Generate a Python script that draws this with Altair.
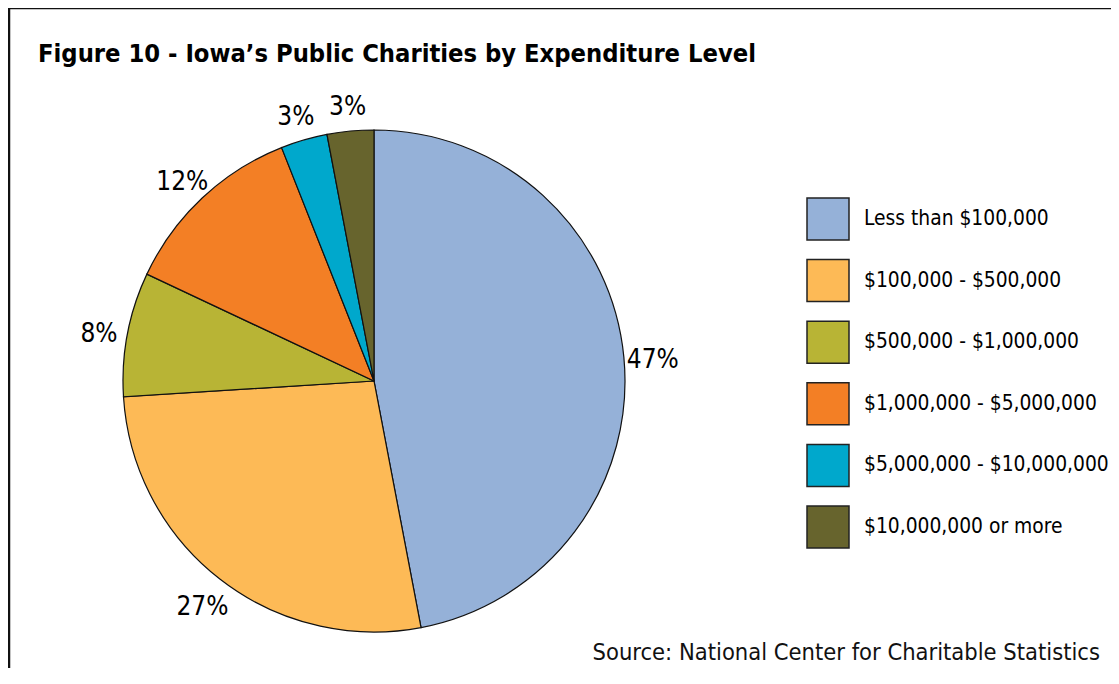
import altair as alt
import pandas as pd

categories = [
    "Less than $100,000",
    "$100,000 - $500,000",
    "$500,000 - $1,000,000",
    "$1,000,000 - $5,000,000",
    "$5,000,000 - $10,000,000",
    "$10,000,000 or more",
]
percents = [47, 27, 8, 12, 3, 3]
colors = ["#95B1D8", "#FDBA56", "#B8B435", "#F37F25", "#00A8CC", "#67642D"]
title_text = "Figure 10 - Iowa\u2019s Public Charities by Expenditure Level"
source_text = "Source: National Center for Charitable Statistics"

FONT = "Liberation Sans Narrow, DejaVu Sans Condensed, sans-serif"

df = pd.DataFrame({
    "category": categories,
    "percent": percents,
    "order": list(range(len(categories))),
    "label": [f"{p}%" for p in percents],
})

CX, CY = 366, 373

base = alt.Chart(df)

pie = base.mark_arc(outerRadius=251, stroke="#111111", strokeWidth=1.2).encode(
    theta=alt.Theta("percent:Q", stack=True),
    order=alt.Order("order:Q"),
    color=alt.Color(
        "category:N",
        scale=alt.Scale(domain=categories, range=colors),
        legend=alt.Legend(
            title=None,
            orient="none",
            legendX=798,
            legendY=189,
            symbolType="square",
            symbolSize=1764,
            symbolStrokeColor="#222222",
            symbolStrokeWidth=1.5,
            symbolOpacity=1,
            labelFontSize=20.8,
            labelFont=FONT,
            labelColor="black",
            labelOffset=14,
            rowPadding=13.6,
            labelLimit=400,
            padding=0,
        ),
    ),
    x=alt.value(CX),
    y=alt.value(CY),
)

labels = base.mark_text(radius=280, dy=5, fontSize=26, font=FONT, color="black").encode(
    theta=alt.Theta("percent:Q", stack=True),
    order=alt.Order("order:Q"),
    text="label:N",
    x=alt.value(CX),
    y=alt.value(CY),
)

title = alt.Chart(pd.DataFrame({"t": [title_text]})).mark_text(
    align="left", baseline="alphabetic", fontSize=25.3, fontWeight="bold", font=FONT, color="black"
).encode(x=alt.value(30), y=alt.value(54), text="t:N")

source = alt.Chart(pd.DataFrame({"t": [source_text]})).mark_text(
    align="right", baseline="alphabetic", fontSize=23.5, font=FONT, color="#111111"
).encode(x=alt.value(1092), y=alt.value(652), text="t:N")

frame_top = alt.Chart(pd.DataFrame({"k": [0]})).mark_rule(color="#111111", strokeWidth=2.5).encode(
    x=alt.value(0), x2=alt.value(1103), y=alt.value(0)
)
frame_left = alt.Chart(pd.DataFrame({"k": [0]})).mark_rule(color="#111111", strokeWidth=2.5).encode(
    x=alt.value(1), y=alt.value(0), y2=alt.value(660)
)

chart = alt.layer(frame_top, frame_left, pie, labels, title, source).properties(
    width=1103, height=660, autosize="none", padding=0
).configure_view(stroke=None)

chart.save("out.html", embed_options={"renderer": "svg", "actions": False})
